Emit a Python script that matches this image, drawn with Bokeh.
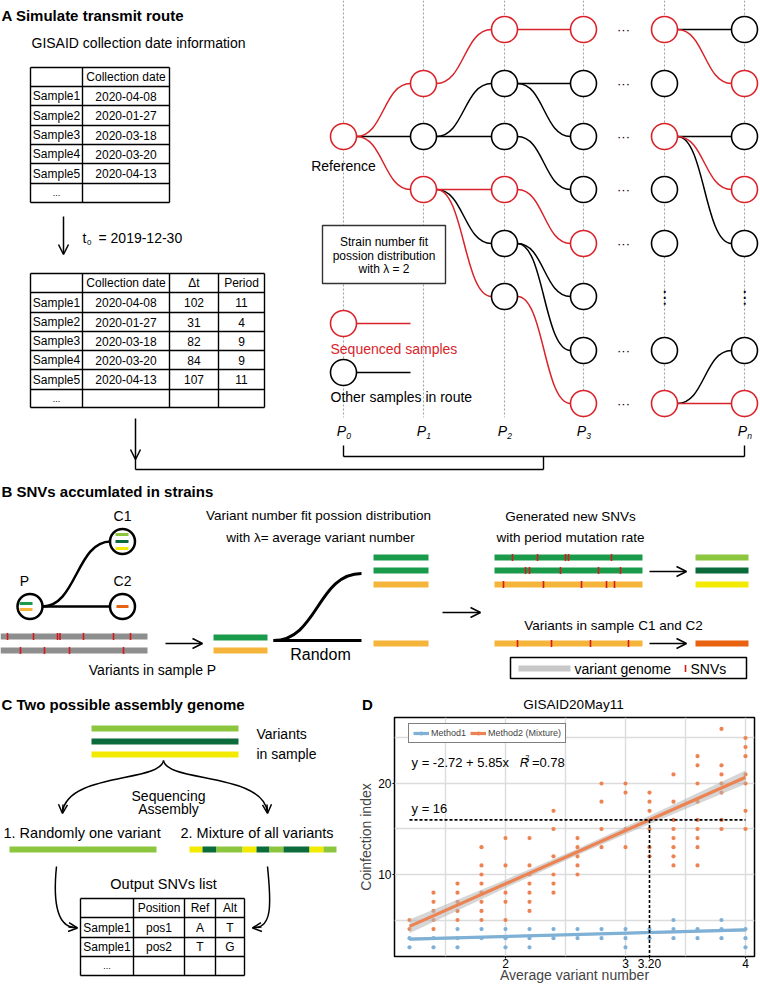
from bokeh.plotting import figure
from bokeh.models import Range1d, Arrow, OpenHead, FixedTicker, Legend, LegendItem
from bokeh.layouts import column, row
from bokeh.embed import file_html
from bokeh.resources import INLINE
from bokeh.core.properties import value

FONT = "Liberation Sans"
RED = "#d9232a"
GREEN = "#1a9b4b"
GOLD = "#f5b43a"
LGREEN = "#8cc63e"
DGREEN = "#0b6b3a"
YELLOW = "#f2ea00"
ORANGE_RED = "#e8620f"
GRAYBAR = "#8e8e8e"
SNV_RED = "#d7191c"
ORANGE = "#ec8353"
BLUE = "#7fb1d6"

# ---------------- Panel A data ----------------
sample_names = ["Sample1", "Sample2", "Sample3", "Sample4", "Sample5"]
collection_dates = ["2020-04-08", "2020-01-27", "2020-03-18", "2020-03-20", "2020-04-13"]
delta_t = [102, 31, 82, 84, 107]
period = [11, 4, 9, 9, 11]
t0_date = "2019-12-30"
poisson_lambda = 2
period_labels = ["0", "1", "2", "3", "n"]

# ---------------- Panel C data ----------------
snv_header = ["", "Position", "Ref", "Alt"]
snv_rows = [["Sample1", "pos1", "A", "T"], ["Sample1", "pos2", "T", "G"]]

# ---------------- Panel D data ----------------
dataset_name = "GISAID20May11"
avg_variant = [1.2, 1.4, 1.6, 1.8, 2.0, 2.2, 2.4, 2.6, 2.8, 3.0, 3.2, 3.4, 3.6, 3.8, 4.0]
coinf_method2 = [
    [5, 4],
    [8, 7, 6, 5, 4],
    [9, 8, 7, 6, 5],
    [13, 11, 10, 9, 8, 7, 6, 5],
    [14, 11, 8, 7, 5],
    [14, 11, 10, 9, 8, 7, 6],
    [17, 15, 12, 10, 9, 8],
    [14, 13, 12, 11, 10],
    [20, 18, 15, 13],
    [20, 19, 15, 13],
    [19, 18, 17, 15, 13, 12],
    [21, 18, 16, 15, 14, 13, 12, 11],
    [23, 22, 20, 18, 16, 15, 14, 13, 11],
    [26, 22, 21, 20, 19, 16, 15],
    [25, 24, 23, 21, 20, 17, 15],
]
coinf_method1 = [
    [3, 2], [3, 2], [4, 3, 2], [4, 3], [4, 3, 2], [4, 3, 2], [4, 3], [4, 3],
    [4, 3], [4, 3, 2], [4, 3], [5, 4, 3], [4, 3], [5, 4, 3], [4, 3, 2],
]
fit_method2 = (-2.72, 5.85)
fit_method1 = (2.47, 0.36)
r_squared = "0.78"
band_x = [1.2, 2.0, 2.6, 3.2, 4.0]
band_half2 = [0.75, 0.45, 0.35, 0.45, 0.75]
band_half1 = [0.18, 0.12, 0.1, 0.12, 0.18]
threshold_y = 16
threshold_x = 3.20
x_major = [2, 3, 4]
x_minor = [1.5, 2.5, 3.5]
y_major = [10, 20]
y_minor = [5, 15, 25]


# ---------------- helpers ----------------
def T(p, x, y, s, size=14, color="black", align="left", style="normal", baseline="middle", font=FONT):
    p.text(x=[x], y=[y], text=[s], text_font=value(font), text_font_size=f"{size}px",
           text_color=color, text_align=align, text_baseline=baseline, text_font_style=style)


def seg(p, x0, y0, x1, y1, color="black", width=1.5, dash="solid"):
    p.segment(x0=[x0], y0=[y0], x1=[x1], y1=[y1], line_color=color, line_width=width, line_dash=dash)


def bar(p, x0, x1, y, color, width=6):
    p.segment(x0=[x0], y0=[y], x1=[x1], y1=[y], line_color=color, line_width=width, line_cap="butt")


def ticks(p, xs, y, h=3.5):
    p.segment(x0=xs, y0=[y - h] * len(xs), x1=xs, y1=[y + h] * len(xs), line_color=SNV_RED, line_width=1.6)


def arrow(p, x0, y0, x1, y1, size=9, width=1.5, color="black"):
    p.add_layout(Arrow(end=OpenHead(size=size, line_width=width, line_color=color),
                       x_start=x0, y_start=y0, x_end=x1, y_end=y1,
                       line_width=width, line_color=color))


def curve(p, x0, y0, x1, y1, color="black", width=1.5, k=0.5):
    dx = (x1 - x0) * k
    p.bezier(x0=[x0], y0=[y0], x1=[x1], y1=[y1], cx0=[x0 + dx], cy0=[y0], cx1=[x1 - dx], cy1=[y1],
             line_color=color, line_width=width)


def table(p, xs, ys, cells, size=12):
    for y in ys:
        seg(p, xs[0], y, xs[-1], y, width=1.4)
    for x in xs:
        seg(p, x, ys[0], x, ys[-1], width=1.4)
    for i, rc in enumerate(cells):
        yc = (ys[i] + ys[i + 1]) / 2
        for j, c in enumerate(rc):
            if c:
                sz = 9 if c == "..." else size
                T(p, (xs[j] + xs[j + 1]) / 2, yc, c, size=sz, align="center")


def blank(p):
    p.outline_line_color = None
    p.background_fill_color = "white"
    p.border_fill_color = "white"
    p.grid.visible = False
    p.frame_align = False


# =============== TOP FIGURE (panels A, B and headers of C, D) ===============
W, H1 = 760, 715
pa = figure(width=W, height=H1, x_range=Range1d(0, 760), y_range=Range1d(H1, 0),
            output_backend="svg", toolbar_location=None, min_border=0,
            x_axis_location=None, y_axis_location=None)
blank(pa)

# ---- Panel A, left side
T(pa, 1, 15, "A Simulate transmit route", size=15, style="bold")
T(pa, 31, 42, "GISAID collection date information", 14)
cells1 = [["", "Collection date"]] + [[s, d] for s, d in zip(sample_names, collection_dates)] + [["...", ""]]
table(pa, [30, 82, 169], [67, 86, 105, 125, 144, 163, 183, 202], cells1)
arrow(pa, 63, 216, 63, 254, size=10)
T(pa, 82, 237, "t", 14)
T(pa, 86.5, 242, "0", 8)
T(pa, 98, 237, "= " + t0_date, 14)
cells2 = ([["", "Collection date", "\u0394t", "Period"]]
          + [[s, d, str(a), str(b)] for s, d, a, b in zip(sample_names, collection_dates, delta_t, period)]
          + [["...", "", "", ""]])
table(pa, [30, 82, 169, 218, 264], [273, 292, 312, 331, 350, 369, 389, 407], cells2)

# connector bracket
arrow(pa, 135, 418, 135, 459, size=10)
seg(pa, 135, 458, 135, 469, width=1.4)
seg(pa, 135, 469, 543, 469, width=1.4)
seg(pa, 543, 456, 543, 469, width=1.4)
seg(pa, 343, 456, 744, 456, width=1.4)
seg(pa, 343, 445, 343, 456, width=1.4)
seg(pa, 744, 445, 744, 456, width=1.4)

# ---- Panel A, transmit route
col_x = [343, 423, 504, 583, 664, 744]
row_y = [29, 83, 136, 189, 243, 296, 350, 403]
R = 13
nodes = [
    (0, 2, "r"),
    (1, 1, "r"), (1, 2, "k"), (1, 3, "r"),
    (2, 0, "r"), (2, 1, "k"), (2, 2, "k"), (2, 3, "r"), (2, 4, "k"), (2, 5, "k"),
    (3, 0, "r"), (3, 1, "k"), (3, 2, "k"), (3, 3, "k"), (3, 4, "r"), (3, 5, "k"), (3, 6, "k"), (3, 7, "r"),
    (4, 0, "r"), (4, 1, "k"), (4, 2, "r"), (4, 3, "k"), (4, 4, "k"), (4, 6, "k"), (4, 7, "r"),
    (5, 0, "k"), (5, 1, "r"), (5, 2, "k"), (5, 3, "r"), (5, 4, "k"), (5, 6, "k"), (5, 7, "r"),
]
edges = [
    (0, 2, 1, 1, "r"), (0, 2, 1, 2, "k"), (0, 2, 1, 3, "r"),
    (1, 1, 2, 0, "r"),
    (1, 2, 2, 1, "k"), (1, 2, 2, 2, "k"),
    (1, 3, 2, 3, "r"), (1, 3, 2, 4, "k"), (1, 3, 2, 5, "r"),
    (2, 0, 3, 0, "r"),
    (2, 1, 3, 1, "k"), (2, 1, 3, 2, "k"),
    (2, 2, 3, 3, "k"),
    (2, 3, 3, 4, "r"),
    (2, 4, 3, 5, "k"), (2, 4, 3, 6, "k"),
    (2, 5, 3, 7, "r"),
    (4, 0, 5, 0, "k"), (4, 0, 5, 1, "r"),
    (4, 2, 5, 2, "k"), (4, 2, 5, 3, "r"), (4, 2, 5, 4, "k"),
    (4, 7, 5, 6, "k"), (4, 7, 5, 7, "r"),
]
for x in col_x:
    seg(pa, x, 0, x, 417, color="#a0a0a0", width=1.1, dash="2 2")
for ck in ("k", "r"):
    for (ci, ri, cj, rj, c) in edges:
        if c == ck:
            curve(pa, col_x[ci] + R, row_y[ri], col_x[cj] - R, row_y[rj],
                  color=RED if c == "r" else "black", width=1.5)
pa.scatter(x=[col_x[c] for c, r, k in nodes], y=[row_y[r] for c, r, k in nodes], marker="circle",
           size=26, fill_color="white",
           line_color=[RED if k == "r" else "black" for c, r, k in nodes], line_width=1.6)
for r in [0, 1, 2, 3, 4, 6, 7]:
    T(pa, 623, row_y[r], "\u00b7\u00b7\u00b7", 13, align="center")
for c in (4, 5):
    T(pa, col_x[c], row_y[5], "\u22ee", 17, align="center", font="DejaVu Sans")
T(pa, 343, 165, "Reference", 14, align="center")
pa.rect(x=[383.5], y=[254], width=[123], height=[58], fill_color="white", line_color="#333333", line_width=1.4)
T(pa, 383.5, 241, "Strain number fit", 12, align="center")
T(pa, 383.5, 255, "possion distribution", 12, align="center")
T(pa, 383.5, 268, "with \u03bb = %d" % poisson_lambda, 12, align="center")
seg(pa, 356, 323, 410, 323, color=RED, width=1.6)
seg(pa, 356, 372, 410, 372, color="black", width=1.6)
pa.scatter(x=[343, 343], y=[323, 372], marker="circle", size=26, fill_color="white",
           line_color=[RED, "black"], line_width=1.6)
T(pa, 330, 348, "Sequenced samples", 14, color=RED)
T(pa, 330, 396, "Other samples in route", 14)
for x, lab in zip([343, 423, 504, 583, 744], period_labels):
    T(pa, x - 2, 430, "P", 14, align="center", style="italic")
    T(pa, x + 5, 435, lab, 8.5, align="center", style="italic")

# ---- Panel B
T(pa, 1, 491, "B SNVs accumlated in strains", size=15, style="bold")
curve(pa, 42, 606, 110, 541, width=2.5)
seg(pa, 42, 606, 110, 606, width=2.5)
pa.scatter(x=[29.5, 122, 122], y=[606, 541, 606], marker="circle", size=25, fill_color="white",
           line_color="black", line_width=2.5)
bar(pa, 19, 32, 603, GREEN, 3)
bar(pa, 19, 32, 609, GOLD, 3)
bar(pa, 115, 128, 534, LGREEN, 3)
bar(pa, 115, 128, 541, DGREEN, 3)
bar(pa, 115, 128, 548, YELLOW, 3)
bar(pa, 116, 128, 606, ORANGE_RED, 3)
T(pa, 24, 580, "P", 14, align="center")
T(pa, 122, 515, "C1", 14, align="center")
T(pa, 122, 580, "C2", 14, align="center")
bar(pa, 0, 147, 636, GRAYBAR, 6)
bar(pa, 0, 147, 650, GRAYBAR, 6)
ticks(pa, [7, 33, 57, 59.5, 83, 113, 130], 636)
ticks(pa, [20, 44, 69, 123], 650)
T(pa, 152, 669, "Variants in sample P", 14, align="center")
arrow(pa, 165, 643, 202, 643, size=10)
bar(pa, 213, 267, 637, GREEN, 6)
bar(pa, 213, 267, 650, GOLD, 6)
seg(pa, 273, 640, 361, 640, width=3)
curve(pa, 273, 640, 361, 573, width=3)
T(pa, 320, 654, "Random", 16, align="center")
T(pa, 318, 515, "Variant number fit possion distribution", 13.5, align="center")
T(pa, 320, 537, "with \u03bb= average variant number", 13.5, align="center")
bar(pa, 373, 428, 557, GREEN, 6)
bar(pa, 373, 428, 570, GREEN, 6)
bar(pa, 373, 428, 584, GOLD, 6)
bar(pa, 373, 428, 643, GOLD, 6)
arrow(pa, 442, 612, 480, 612, size=10)
T(pa, 570, 516, "Generated new SNVs", 13.5, align="center")
T(pa, 570, 537, "with period mutation rate", 13.5, align="center")
bar(pa, 494, 642, 557, GREEN, 6)
bar(pa, 494, 642, 570, GREEN, 6)
bar(pa, 494, 642, 584, GOLD, 6)
ticks(pa, [512, 537, 565, 568, 611], 557)
ticks(pa, [525, 529, 560, 598, 620], 570)
ticks(pa, [503, 543, 581, 606, 614], 584)
arrow(pa, 649, 571, 686, 571, size=10)
bar(pa, 695, 748, 557, LGREEN, 6)
bar(pa, 695, 748, 570, DGREEN, 6)
bar(pa, 695, 748, 584, YELLOW, 6)
T(pa, 613, 625, "Variants in sample C1 and C2", 13.5, align="center")
bar(pa, 494, 642, 643, GOLD, 6)
ticks(pa, [517, 551, 590, 628], 643)
arrow(pa, 649, 643, 686, 643, size=10)
bar(pa, 695, 748, 643, ORANGE_RED, 6)
pa.rect(x=[628], y=[667.5], width=[236], height=[21], fill_color=None, line_color="black", line_width=1.5)
bar(pa, 518, 570, 668, "#c8c8c8", 6)
ticks(pa, [685], 668)
T(pa, 574, 668, "variant genome", 14)
T(pa, 690, 668, "SNVs", 14)

# ---- headers of panels C and D
T(pa, 1, 704, "C Two possible assembly genome", size=15, style="bold")
T(pa, 367, 704, "D", size=15, style="bold", align="center")
T(pa, 573, 704, dataset_name, 13.5, align="center")

# =============== PANEL C FIGURE ===============
H2 = 984 - H1
WC = 355
pc = figure(width=WC, height=H2, x_range=Range1d(0, WC), y_range=Range1d(984, H1),
            output_backend="svg", toolbar_location=None, min_border=0,
            x_axis_location=None, y_axis_location=None)
blank(pc)
bar(pc, 91, 238, 728, LGREEN, 6)
bar(pc, 91, 238, 741, DGREEN, 6)
bar(pc, 91, 238, 754, YELLOW, 6)
T(pc, 256, 733, "Variants", 14)
T(pc, 256, 753, "in sample", 14)
pc.bezier(x0=[163, 163], y0=[760, 760], x1=[62, 267], y1=[812, 812],
          cx0=[160, 166], cy0=[782, 782], cx1=[66, 263], cy1=[772, 772], line_color="black", line_width=1.5)
arrow(pc, 62.5, 804, 62, 813, size=9)
arrow(pc, 266.5, 804, 267, 813, size=9)
T(pc, 168, 795, "Sequencing", 14, align="center")
T(pc, 168, 808, "Assembly", 14, align="center")
T(pc, 3, 832, "1. Randomly one variant", 14.5)
T(pc, 180, 832, "2. Mixture of all variants", 14.5)
bar(pc, 9, 156, 849, LGREEN, 6)
mix_edges = [189, 202, 216, 242, 256, 269, 283, 309, 323, 336]
mix_cols = [YELLOW, DGREEN, LGREEN, YELLOW, DGREEN, LGREEN, DGREEN, YELLOW, LGREEN]
for a, b, c in zip(mix_edges[:-1], mix_edges[1:], mix_cols):
    bar(pc, a, b, 849, c, 6)
pc.bezier(x0=[56, 267], y0=[866, 866], x1=[74, 255], y1=[927, 927],
          cx0=[52, 271], cy0=[905, 905], cx1=[58, 271], cy1=[926, 926], line_color="black", line_width=1.5)
arrow(pc, 68, 926.5, 77, 927.5, size=9)
arrow(pc, 261, 926.5, 252, 927.5, size=9)
T(pc, 163, 883, "Output SNVs list", 14.5, align="center")
table(pc, [80, 133, 184, 215, 244], [898, 917, 937, 956, 975],
      [snv_header] + snv_rows + [["...", "", "", ""]])

# =============== PANEL D FIGURE ===============
xlo, xhi = 1.075, 4.075
ylo, yhi = 0.99, 27.25
pdd = figure(frame_width=360, frame_height=239, x_range=Range1d(xlo, xhi), y_range=Range1d(ylo, yhi),
             output_backend="svg", toolbar_location=None,
             min_border_left=38, min_border_right=7, min_border_top=2, min_border_bottom=28)
pdd.frame_align = False
pdd.outline_line_color = "black"
pdd.outline_line_width = 1.5
pdd.background_fill_color = "white"

pdd.xaxis.ticker = FixedTicker(ticks=x_major + [threshold_x], minor_ticks=x_minor)
pdd.xaxis.major_label_overrides = {threshold_x: "%.2f" % threshold_x}
pdd.yaxis.ticker = FixedTicker(ticks=y_major, minor_ticks=y_minor)
pdd.xgrid.ticker = FixedTicker(ticks=x_major, minor_ticks=x_minor)
pdd.ygrid.ticker = FixedTicker(ticks=y_major, minor_ticks=y_minor)
for g in (pdd.xgrid, pdd.ygrid):
    g.grid_line_color = "#dcdcdc"
    g.grid_line_width = 1.4
    g.minor_grid_line_color = "#dcdcdc"
    g.minor_grid_line_width = 1.4
for ax in (pdd.xaxis, pdd.yaxis):
    ax.axis_line_color = None
    ax.major_tick_in = 0
    ax.major_tick_out = 2
    ax.minor_tick_in = 0
    ax.minor_tick_out = 0
    ax.major_label_text_font = FONT
    ax.major_label_text_font_size = "12px"
    ax.major_label_text_color = "black"
    ax.axis_label_text_font = FONT
    ax.axis_label_text_font_size = "14px"
    ax.axis_label_text_font_style = "normal"
    ax.major_label_standoff = 1
pdd.xaxis.major_label_standoff = 0
pdd.xaxis.axis_label = "Average variant number"
pdd.xaxis.axis_label_standoff = -4
pdd.yaxis.axis_label = "Coinfection index"
pdd.yaxis.axis_label_standoff = 1

xs2 = [x for x, ys in zip(avg_variant, coinf_method2) for _ in ys]
ys2 = [y for ys in coinf_method2 for y in ys]
xs1 = [x for x, ys in zip(avg_variant, coinf_method1) for _ in ys]
ys1 = [y for ys in coinf_method1 for y in ys]
d2 = pdd.scatter(xs2, ys2, size=4.2, color=ORANGE, line_color=None)
d1 = pdd.scatter(xs1, ys1, size=4.2, color=BLUE, line_color=None)

a2, b2 = fit_method2
a1, b1 = fit_method1
pdd.varea(x=band_x, y1=[a2 + b2 * x - h for x, h in zip(band_x, band_half2)],
          y2=[a2 + b2 * x + h for x, h in zip(band_x, band_half2)], fill_color="#b4b4b4", fill_alpha=0.55)
pdd.varea(x=band_x, y1=[a1 + b1 * x - h for x, h in zip(band_x, band_half1)],
          y2=[a1 + b1 * x + h for x, h in zip(band_x, band_half1)], fill_color="#b4b4b4", fill_alpha=0.55)
fx = [avg_variant[0], avg_variant[-1]]
l1 = pdd.line(fx, [a1 + b1 * x for x in fx], line_color=BLUE, line_width=3.2)
l2 = pdd.line(fx, [a2 + b2 * x for x in fx], line_color=ORANGE, line_width=3.2)

pdd.segment(x0=[avg_variant[0], threshold_x], y0=[threshold_y, threshold_y],
            x1=[avg_variant[-1], threshold_x], y1=[threshold_y, ylo],
            line_color="black", line_width=1.6, line_dash="3 2")

T(pdd, 1.217, 22.3, "y = -2.72 + 5.85x", 13)
T(pdd, 2.118, 22.3, "R", 13, style="italic")
T(pdd, 2.165, 22.85, "2", 7.5)
T(pdd, 2.22, 22.3, "=" + r_squared, 13)
T(pdd, 1.217, 17.25, "y = %d" % threshold_y, 13)

leg = Legend(items=[LegendItem(label="Method1", renderers=[l1, d1]),
                    LegendItem(label="Method2 (Mixture)", renderers=[l2, d2])],
             location=(14, 213), orientation="horizontal",
             label_text_font=FONT, label_text_font_size="9px",
             glyph_width=16, glyph_height=10, label_standoff=2, spacing=4, padding=4, margin=0,
             border_line_color="black", border_line_width=1, background_fill_alpha=1,
             label_height=10)
pdd.add_layout(leg)

layout = column(pa, row(pc, pdd))
open("out.html", "w").write(file_html(layout, INLINE))
